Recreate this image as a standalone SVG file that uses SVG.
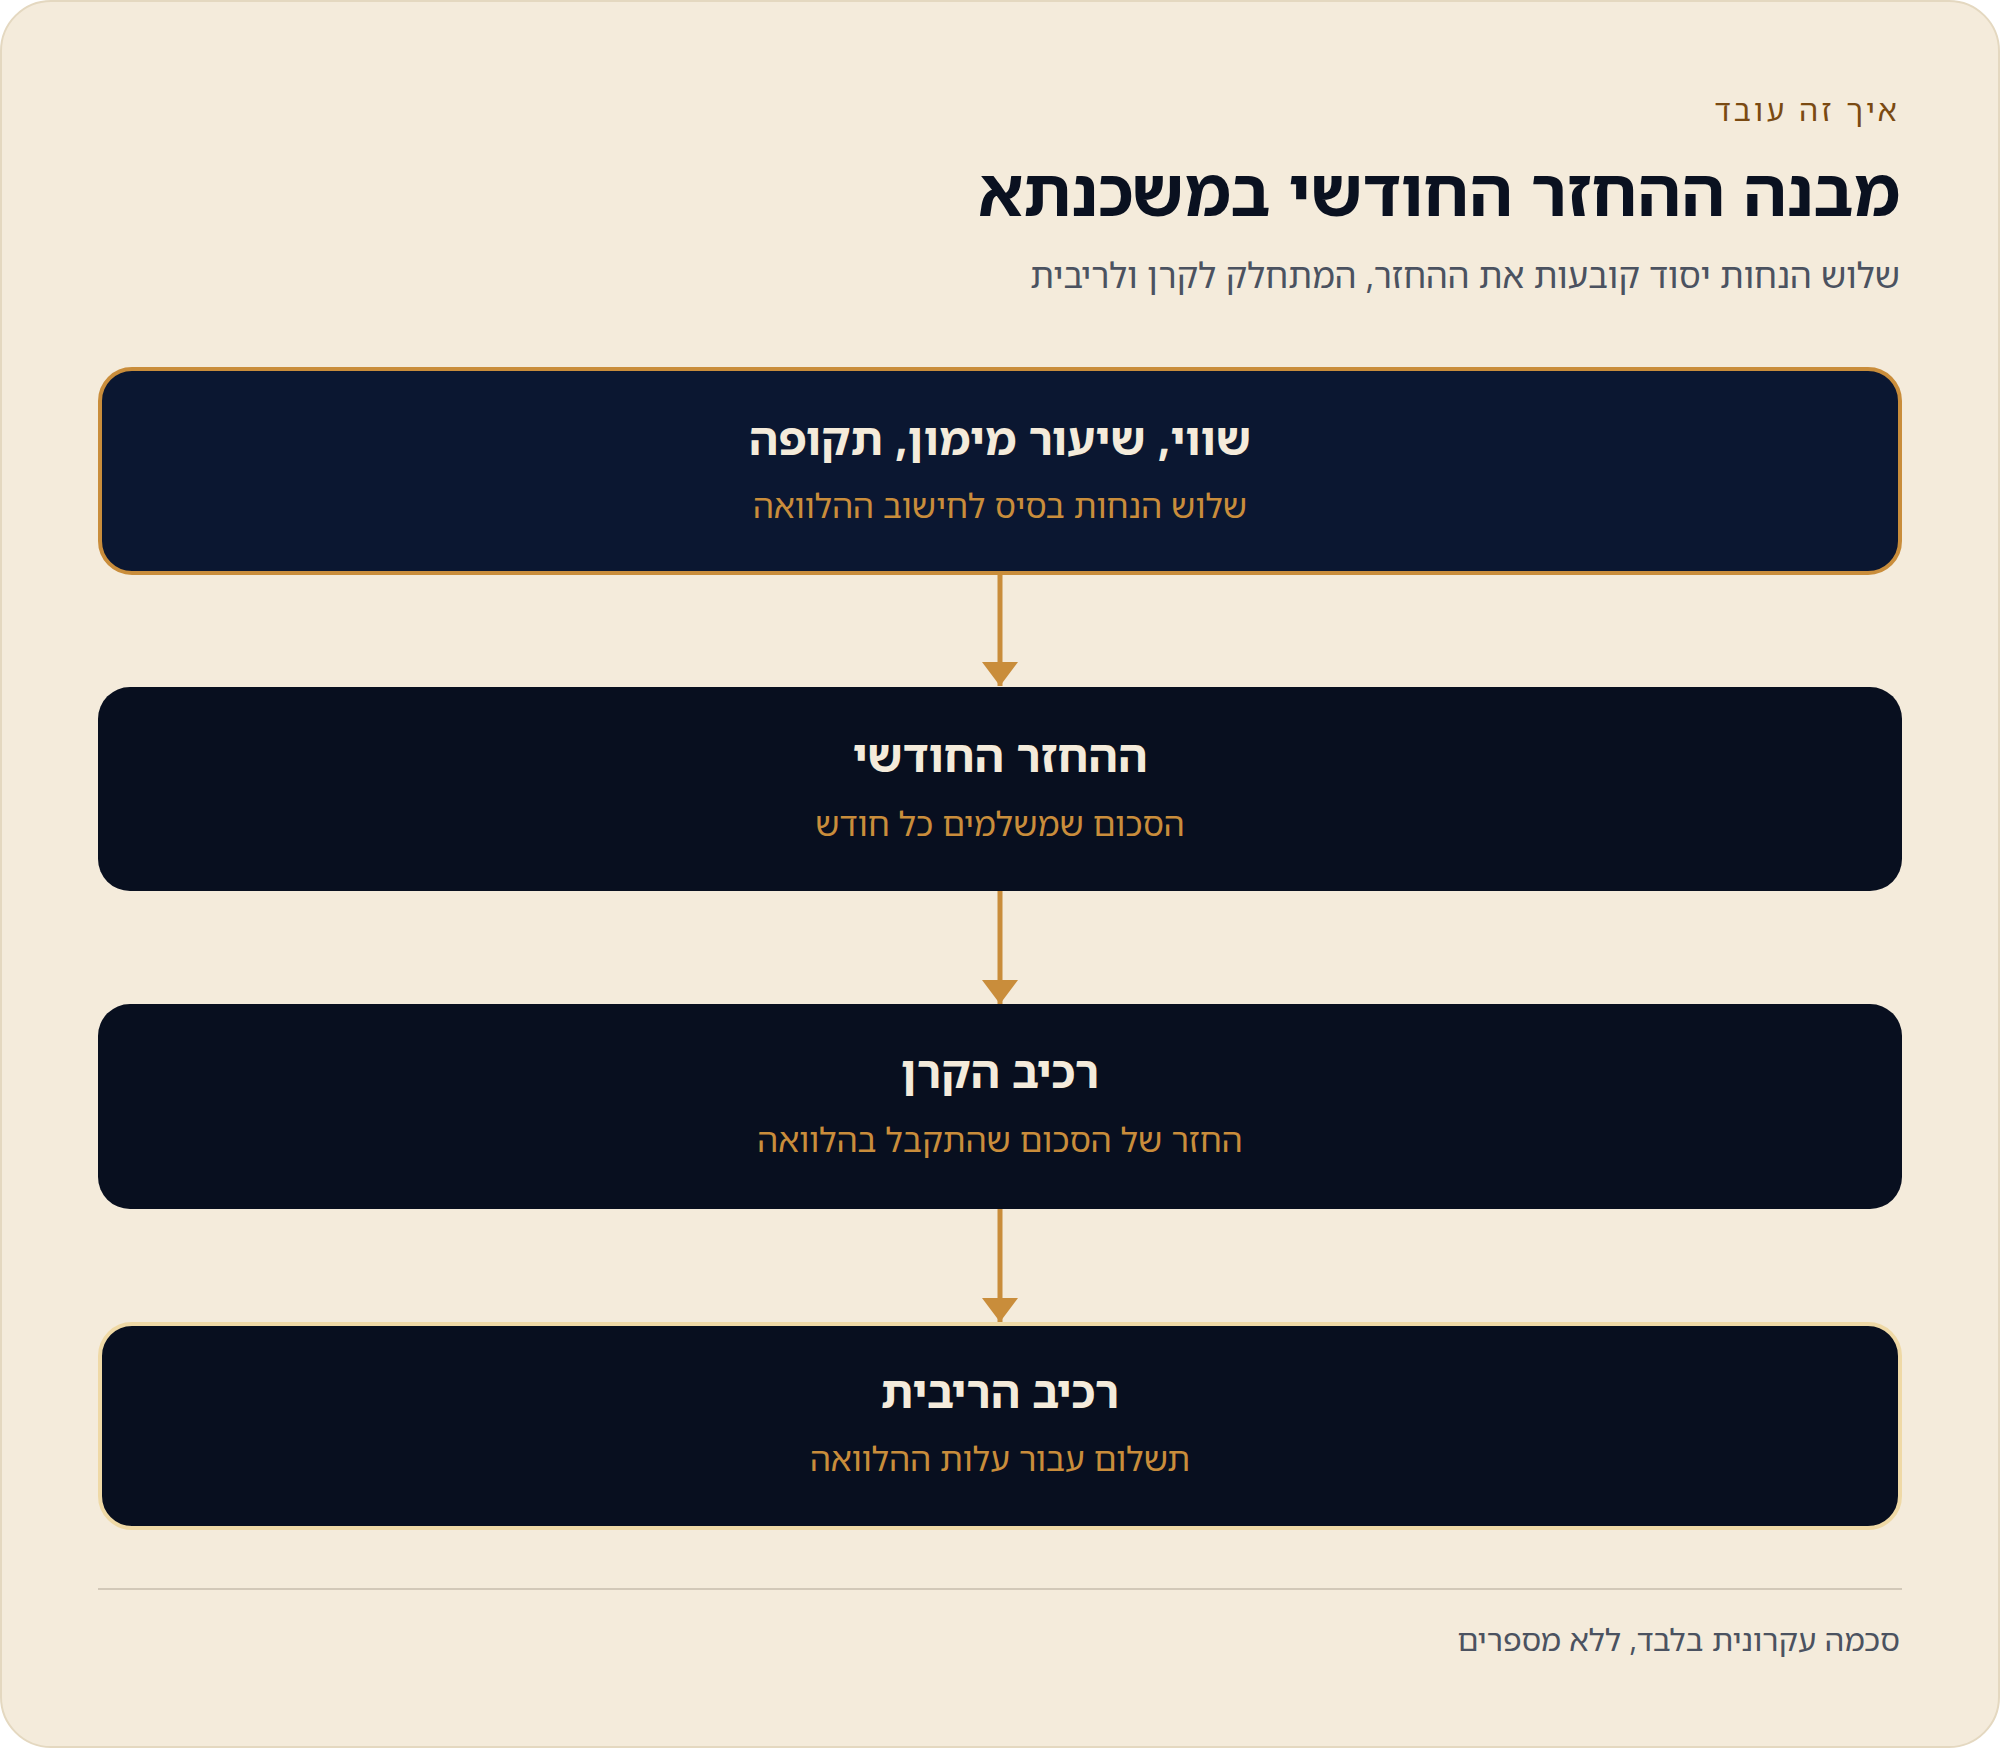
<svg xmlns="http://www.w3.org/2000/svg" width="2000" height="1748" viewBox="0 0 2000 1748">
  <defs>
    <style>
      text { font-family: "Noto Sans Hebrew", "Noto Sans", "Open Sans", "DejaVu Sans", sans-serif; direction: rtl; }
      .eyebrow { font-size: 30px; fill: #7A4A12; letter-spacing: 3.4px; }
      .title { font-size: 66.6px; font-weight: 700; fill: #0A1120; }
      .subtitle { font-size: 34.6px; fill: #4B5260; }
      .ntitle { font-size: 45px; font-weight: 700; fill: #F4EBDB; text-anchor: middle; }
      .nsub { font-size: 33.3px; fill: #C98D3B; text-anchor: middle; }
      .footer { font-size: 31px; fill: #4B5260; }
      .edge { stroke: #C98D3B; stroke-width: 5; fill: none; }
    </style>
    <marker id="arrow" viewBox="0 0 24 36" refX="24" refY="18" markerWidth="24" markerHeight="36" markerUnits="userSpaceOnUse" orient="auto">
      <path d="M0,0 L24,18 L0,36 Z" fill="#C98D3B"/>
    </marker>
  </defs>

  <rect x="1" y="1" width="1998" height="1746" rx="50" ry="50" fill="#F4EBDB" stroke="#E4D8C0" stroke-width="2"/>

  <g id="header">
    <text class="eyebrow" x="1900" y="121" text-anchor="start">איך זה עובד</text>
    <text class="title" x="1900" y="216" text-anchor="start">מבנה ההחזר החודשי במשכנתא</text>
    <text class="subtitle" x="1900" y="288" text-anchor="start">שלוש הנחות יסוד קובעות את ההחזר, המתחלק לקרן ולריבית</text>
  </g>

  <g id="connectors">
    <line class="edge" x1="1000" y1="574" x2="1000" y2="686" marker-end="url(#arrow)"/>
    <line class="edge" x1="1000" y1="891" x2="1000" y2="1004" marker-end="url(#arrow)"/>
    <line class="edge" x1="1000" y1="1209" x2="1000" y2="1322" marker-end="url(#arrow)"/>
  </g>

  <g id="node-assumptions">
    <rect x="100" y="369" width="1800" height="204" rx="32" ry="32" fill="#0B1731" stroke="#C98D3B" stroke-width="4"/>
    <text class="ntitle" x="1000" y="455">שווי, שיעור מימון, תקופה</text>
    <text class="nsub" x="1000" y="518">שלוש הנחות בסיס לחישוב ההלוואה</text>
  </g>

  <g id="node-monthly">
    <rect x="98" y="687" width="1804" height="204" rx="32" ry="32" fill="#080F1F"/>
    <text class="ntitle" x="1000" y="772">ההחזר החודשי</text>
    <text class="nsub" x="1000" y="836">הסכום שמשלמים כל חודש</text>
  </g>

  <g id="node-principal">
    <rect x="98" y="1004" width="1804" height="205" rx="32" ry="32" fill="#080F1F"/>
    <text class="ntitle" x="1000" y="1088">רכיב הקרן</text>
    <text class="nsub" x="1000" y="1152">החזר של הסכום שהתקבל בהלוואה</text>
  </g>

  <g id="node-interest">
    <rect x="100" y="1324" width="1800" height="204" rx="32" ry="32" fill="#080F1F" stroke="#EFD9A6" stroke-width="4"/>
    <text class="ntitle" x="1000" y="1408">רכיב הריבית</text>
    <text class="nsub" x="1000" y="1471">תשלום עבור עלות ההלוואה</text>
  </g>

  <line x1="98" y1="1589" x2="1902" y2="1589" stroke="#D2C8B8" stroke-width="2"/>
  <text class="footer" x="1900" y="1651" text-anchor="start">סכמה עקרונית בלבד, ללא מספרים</text>
</svg>
